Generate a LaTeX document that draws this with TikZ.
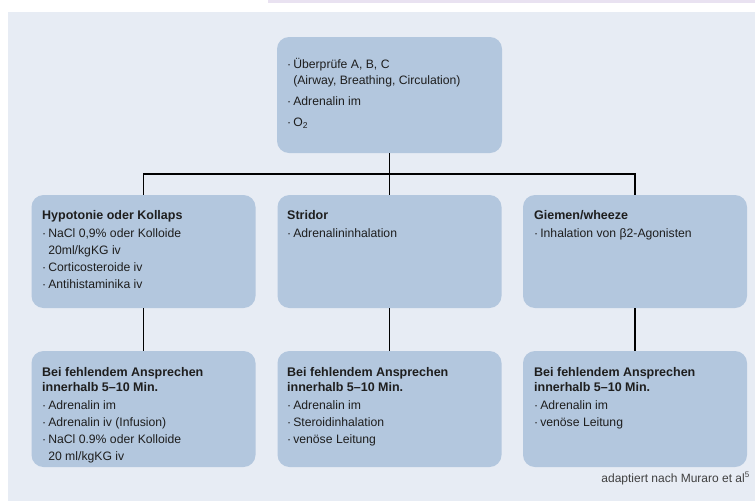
\documentclass[tikz,border=0pt]{standalone}
\usepackage{fontspec}
\setmainfont{Liberation Sans}
\usetikzlibrary{positioning}
\definecolor{cPanel}{HTML}{E7ECF4}
\definecolor{cBox}  {HTML}{B3C7DE}
\definecolor{cText} {HTML}{1E1E1E}
\definecolor{cStrip}{HTML}{E9E2F1}
\tikzset{
  box/.style  ={fill=cBox,rounded corners=12pt,inner sep=0pt,
                minimum width=224pt,minimum height=113pt},
  txt/.style  ={anchor=north west,align=left,inner sep=0pt,text=cText,
                font=\fontsize{12.2}{17}\selectfont},
  conn/.style ={draw=black,line width=1.4pt},
  note/.style ={anchor=base east,inner sep=0pt,text=black!75,
                font=\fontsize{12}{13}\selectfont},
}
\newcommand{\itm}{\textperiodcentered\,}
\newcommand{\hdl}[1]{{\fontsize{12.5}{15}\selectfont\bfseries #1}}

\begin{document}
\begin{tikzpicture}[x=1pt,y=-1pt]
\useasboundingbox (0,0) rectangle (755,501);
\fill[white]  (0,0)   rectangle (755,501);
\fill[cPanel] (8,12)  rectangle (755,501);
\fill[cStrip] (268,0) rectangle (755,3);

% ===== first measures ======================================================
\node[box,minimum height=116pt,minimum width=225pt] (top) at (389.5,95) {};
\node[txt,font=\fontsize{12.2}{16}\selectfont] (topT) at (287,58.5)
  {\itm Überprüfe A, B, C\\
   \hphantom{\itm}(Airway, Breathing, Circulation)\\[5pt]
   \itm Adrenalin im\\[5pt]
   \itm O\textsubscript{2}};

% ===== symptom row =========================================================
\node[box] (hyp) at (143.5,251.5) {};
\node[box] (str) at (389.5,251.5) {};
\node[box] (gie) at (635,251.5) {};
\node[txt] (hypT) at (42,210)
  {\hdl{Hypotonie oder Kollaps}\\[1pt]
   \itm NaCl 0,9\% oder Kolloide\\
   \hphantom{\itm}20ml/kgKG iv\\
   \itm Corticosteroide iv\\
   \itm Antihistaminika iv};
\node[txt] (strT) at (287,210)
  {\hdl{Stridor}\\[1pt]
   \itm Adrenalininhalation};
\node[txt] (gieT) at (534,210)
  {\hdl{Giemen/wheeze}\\[1pt]
   \itm Inhalation von β2-Agonisten};

% ===== no response row =====================================================
\node[box,minimum height=116pt] (hypB) at (143.5,409) {};
\node[box,minimum height=116pt] (strB) at (389.5,409) {};
\node[box,minimum height=116pt] (gieB) at (635,409) {};
\node[txt] (hypBT) at (42,367.5)
  {\hdl{Bei fehlendem Ansprechen}\\[-2pt]
   \hdl{innerhalb 5–10 Min.}\\[1pt]
   \itm Adrenalin im\\
   \itm Adrenalin iv (Infusion)\\
   \itm NaCl 0.9\% oder Kolloide\\
   \hphantom{\itm}20 ml/kgKG iv};
\node[txt] (strBT) at (287,367.5)
  {\hdl{Bei fehlendem Ansprechen}\\[-2pt]
   \hdl{innerhalb 5–10 Min.}\\[1pt]
   \itm Adrenalin im\\
   \itm Steroidinhalation\\
   \itm venöse Leitung};
\node[txt] (gieBT) at (534,367.5)
  {\hdl{Bei fehlendem Ansprechen}\\[-2pt]
   \hdl{innerhalb 5–10 Min.}\\[1pt]
   \itm Adrenalin im\\
   \itm venöse Leitung};

% ===== connectors ==========================================================
\coordinate (rail) at (0,174);
\draw[conn] (top.south) -- (str.north);
\draw[conn] (hyp.north) -- (hyp.north|-rail) -- (gie.north|-rail) -- (gie.north);
\foreach \a in {hyp,str,gie}{\draw[conn] (\a.south) -- (\a B.north);}

\node[note] (src) at (750,482) {adaptiert nach Muraro et al\textsuperscript{5}};
\end{tikzpicture}
\end{document}
